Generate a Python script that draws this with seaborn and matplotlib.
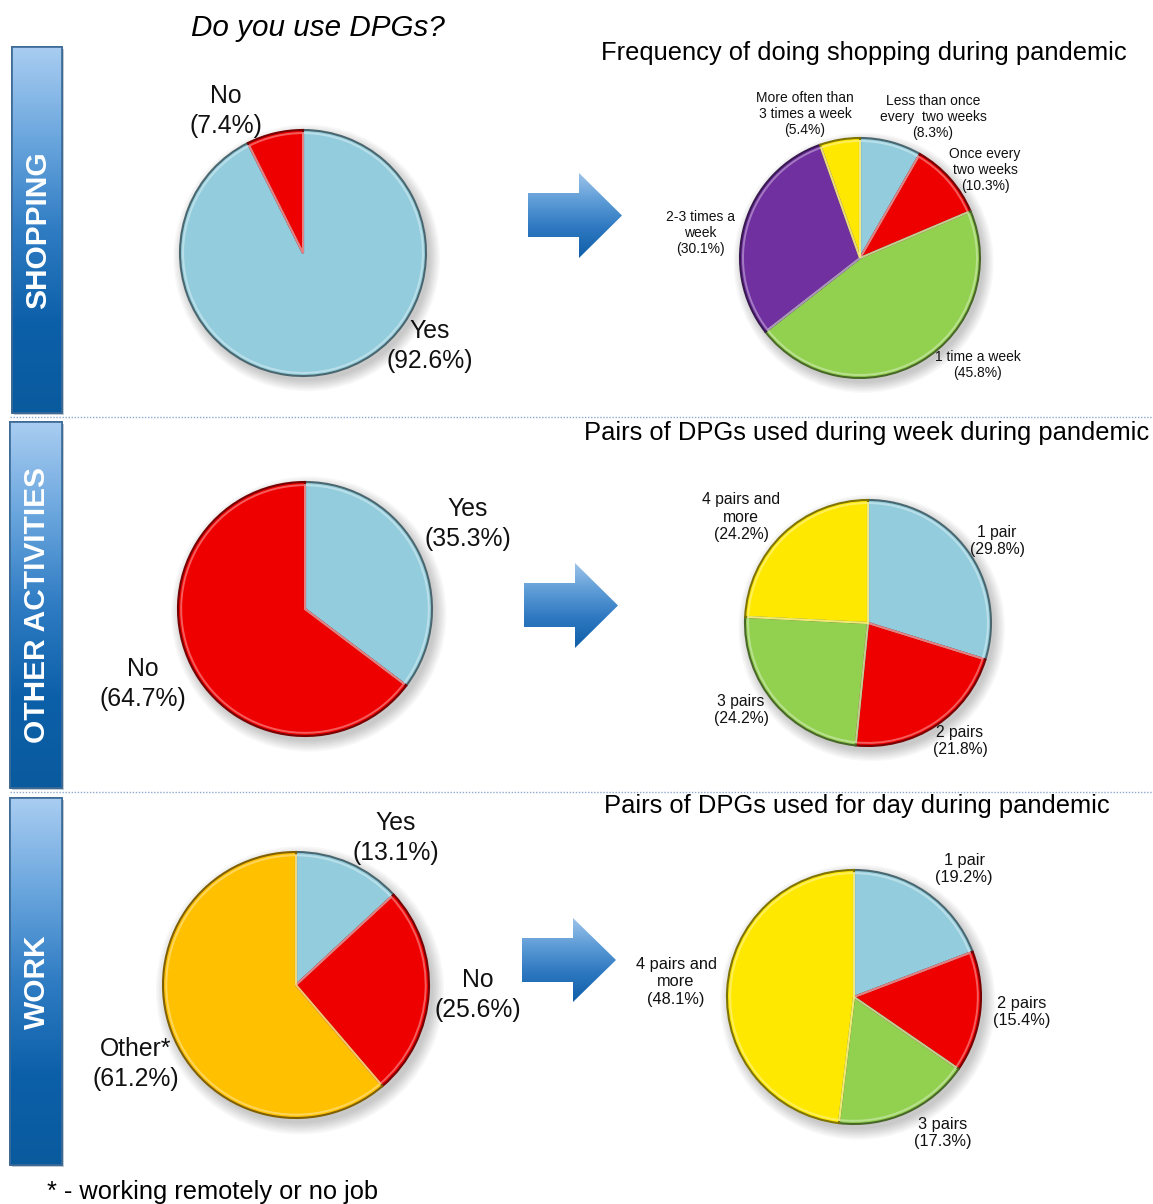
import numpy as np
import matplotlib
matplotlib.use("Agg")
import matplotlib.pyplot as plt
import seaborn as sns
from matplotlib.patches import Polygon, Rectangle, Circle
from matplotlib.colors import LinearSegmentedColormap, to_rgb

# ---------------- data ----------------
use_labels = ["Yes", "No"]
shopping_use = [92.6, 7.4]
other_use = [35.3, 64.7]
work_labels = ["Yes", "No", "Other*"]
work_use = [13.1, 25.6, 61.2]

freq_labels = ["Less than once\nevery  two weeks", "Once every\ntwo weeks", "1 time a week",
               "2-3 times a\nweek", "More often than\n3 times a week"]
freq_values = [8.3, 10.3, 45.8, 30.1, 5.4]

week_labels = ["1 pair", "2 pairs", "3 pairs", "4 pairs and\nmore"]
week_values = [29.8, 21.8, 24.2, 24.2]

day_labels = ["1 pair", "2 pairs", "3 pairs", "4 pairs and\nmore"]
day_values = [19.2, 15.4, 17.3, 48.1]

row_names = ["SHOPPING", "OTHER ACTIVITIES", "WORK"]
titles = ["Frequency of doing shopping during pandemic",
          "Pairs of DPGs used during week during pandemic",
          "Pairs of DPGs used for day during pandemic"]

# ---------------- style ----------------
sns.set_theme(style="white")
plt.rcParams["font.family"] = ["Liberation Sans", "DejaVu Sans"]
plt.rcParams["text.color"] = "#000000"

BLUE = "#93CDDD"
RED = "#EE0000"
GREEN = "#92D050"
PURPLE = "#7030A0"
YELLOW = "#FFE800"
ORANGE = "#FFC000"

W, H = 1153, 1204
fig = plt.figure(figsize=(W / 100, H / 100), dpi=100)
fig.patch.set_facecolor("white")

bg = fig.add_axes([0, 0, 1, 1], zorder=0)
bg.set_xlim(0, W)
bg.set_ylim(H, 0)
bg.axis("off")

grad_cmap = LinearSegmentedColormap.from_list(
    "bar", ["#a9cdf1", "#6aa6de", "#2f7cc3", "#0c60a9", "#0a5a9e"])
arrow_cmap = LinearSegmentedColormap.from_list(
    "arr", ["#9cc3ea", "#5c9bd6", "#2b76bf", "#0f5fa8"])


def gradient_patch(ax, patch, cmap, x0, x1, y0, y1):
    ax.add_patch(patch)
    grad = np.linspace(0, 1, 256).reshape(-1, 1)
    im = ax.imshow(grad, cmap=cmap, extent=(x0, x1, y1, y0), origin="upper",
                   aspect="auto", interpolation="bilinear", zorder=patch.get_zorder() + 0.1)
    im.set_clip_path(patch)


# side banners
banners = [(12, 47, 62, 413), (10, 422, 62, 788), (10, 798, 62, 1165)]
for (x0, y0, x1, y1), name in zip(banners, row_names):
    shadow = Rectangle((x0 + 2, y0 + 2), x1 - x0, y1 - y0, facecolor="#9aa7b5",
                       edgecolor="none", alpha=0.6, zorder=1)
    bg.add_patch(shadow)
    rect = Rectangle((x0, y0), x1 - x0, y1 - y0, facecolor="none",
                     edgecolor="#2f5f8f", linewidth=1.2, zorder=2)
    gradient_patch(bg, rect, grad_cmap, x0, x1, y0, y1)
    bg.add_patch(Rectangle((x0, y0), x1 - x0, y1 - y0, facecolor="none",
                           edgecolor="#3c6a96", linewidth=1.2, zorder=3))
    bg.text((x0 + x1) / 2 + 1, (y0 + y1) / 2, name, rotation=90, color="white",
            fontsize=21.5, fontweight="bold", ha="center", va="center", zorder=4)

# dotted separators
for y in (417, 792):
    bg.plot([10, W], [y, y], color="#8fa8d0", linewidth=1.0, linestyle=(0, (1, 1.2)), zorder=1)

# arrows
arrows = [(528, 579, 622, 173, 193, 237, 258),
          (524, 575, 618, 563, 583, 627, 648),
          (522, 573, 616, 918, 938, 982, 1002)]
for xl, xh, xt, yt, ys0, ys1, yb in arrows:
    ym = (yt + yb) / 2
    pts = [(xl, ys0), (xh, ys0), (xh, yt), (xt, ym), (xh, yb), (xh, ys1), (xl, ys1)]
    poly = Polygon(pts, closed=True, facecolor="none", edgecolor="none", zorder=2)
    gradient_patch(bg, poly, arrow_cmap, xl, xt, yt, yb)

bg.set_xlim(0, W)
bg.set_ylim(H, 0)


def shade(c, f):
    r, g, b = to_rgb(c)
    return (r * f, g * f, b * f)


def lighten(c, f):
    r, g, b = to_rgb(c)
    return (r + (1 - r) * f, g + (1 - g) * f, b + (1 - b) * f)


def draw_pie(cx, cy, r, values, colors):
    ax = fig.add_axes([(cx - r) / W, (H - cy - r) / H, 2 * r / W, 2 * r / H], zorder=2)
    # soft drop shadow
    for k in range(8):
        ax.add_patch(Circle((0.03, -0.04), 1.0 + 0.012 * k, facecolor="#000000",
                            edgecolor="none", alpha=0.028, zorder=0, clip_on=False))
    wedges, _ = ax.pie(values, colors=colors, startangle=90, counterclock=False,
                       radius=1.0, wedgeprops=dict(linewidth=1.5, zorder=2))
    for w, c in zip(wedges, colors):
        w.set_edgecolor(shade(c, 0.5))
    # inner bevel highlight
    hi, _ = ax.pie(values, colors=["none"] * len(values), startangle=90, counterclock=False,
                   radius=0.975, wedgeprops=dict(linewidth=1.4, fill=False, zorder=3))
    for w, c in zip(hi, colors):
        w.set_edgecolor(lighten(c, 0.45))
        w.set_alpha(0.8)
    ax.set_xlim(-1, 1)
    ax.set_ylim(-1, 1)
    ax.set_aspect("equal")
    ax.axis("off")
    return ax


draw_pie(303, 253, 123, shopping_use, [BLUE, RED])
draw_pie(860, 258, 120, freq_values, [BLUE, RED, GREEN, PURPLE, YELLOW])
draw_pie(305, 609, 127, other_use, [BLUE, RED])
draw_pie(868, 623, 123, week_values, [BLUE, RED, GREEN, YELLOW])
draw_pie(296, 985, 133, work_use, [BLUE, RED, ORANGE])
draw_pie(854, 997, 127, day_values, [BLUE, RED, GREEN, YELLOW])

# overlay for text
ov = fig.add_axes([0, 0, 1, 1], zorder=5)
ov.set_xlim(0, W)
ov.set_ylim(H, 0)
ov.axis("off")
ov.patch.set_alpha(0)


def lab(name, v):
    return f"{name}\n({v:.1f}%)"


big = dict(fontsize=17.8, ha="center", va="center", linespacing=1.28, color="#111111")

ov.text(318, 28, "Do you use DPGs?", fontsize=21.3, style="italic", ha="center", va="center")
ov.text(864, 53, titles[0], fontsize=18.4, ha="center", va="center")
ov.text(867, 433, titles[1], fontsize=18.4, ha="center", va="center")
ov.text(857, 806, titles[2], fontsize=18.4, ha="center", va="center")

# shopping use
ov.text(226, 111, lab(use_labels[1], shopping_use[1]), **big)
ov.text(430, 346, lab(use_labels[0], shopping_use[0]), **big)

# shopping frequency
sm = dict(fontsize=10, ha="center", va="center", linespacing=1.2, color="#111111")
freq_pos = [(933, 117), (985, 170), (978, 365), (700, 233), (805, 114)]
for name, v, (x, y) in zip(freq_labels, freq_values, freq_pos):
    ov.text(x, y, lab(name, v), **sm)

# other activities use
ov.text(468, 524, lab(use_labels[0], other_use[0]), **big)
ov.text(143, 684, lab(use_labels[1], other_use[1]), **big)

# pairs per week
md = dict(fontsize=11.3, ha="center", va="center", linespacing=1.2, color="#111111")
week_pos = [(997, 541), (960, 741), (741, 710), (741, 517)]
for name, v, (x, y) in zip(week_labels, week_values, week_pos):
    ov.text(x, y, lab(name, v), **md)

# work use
work_pos = [(396, 838), (478, 995), (136, 1064)]
for name, v, (x, y) in zip(work_labels, work_use, work_pos):
    ov.text(x, y, lab(name, v), **big)

# pairs per day
md2 = dict(fontsize=11.8, ha="center", va="center", linespacing=1.2, color="#111111")
day_pos = [(964, 869), (1022, 1012), (943, 1133), (676, 982)]
for name, v, (x, y) in zip(day_labels, day_values, day_pos):
    ov.text(x, y, lab(name, v), **md2)

ov.text(47, 1192, "* - working remotely or no job", fontsize=18.3, ha="left", va="center")

fig.savefig("out.png", dpi=100, facecolor="white")
